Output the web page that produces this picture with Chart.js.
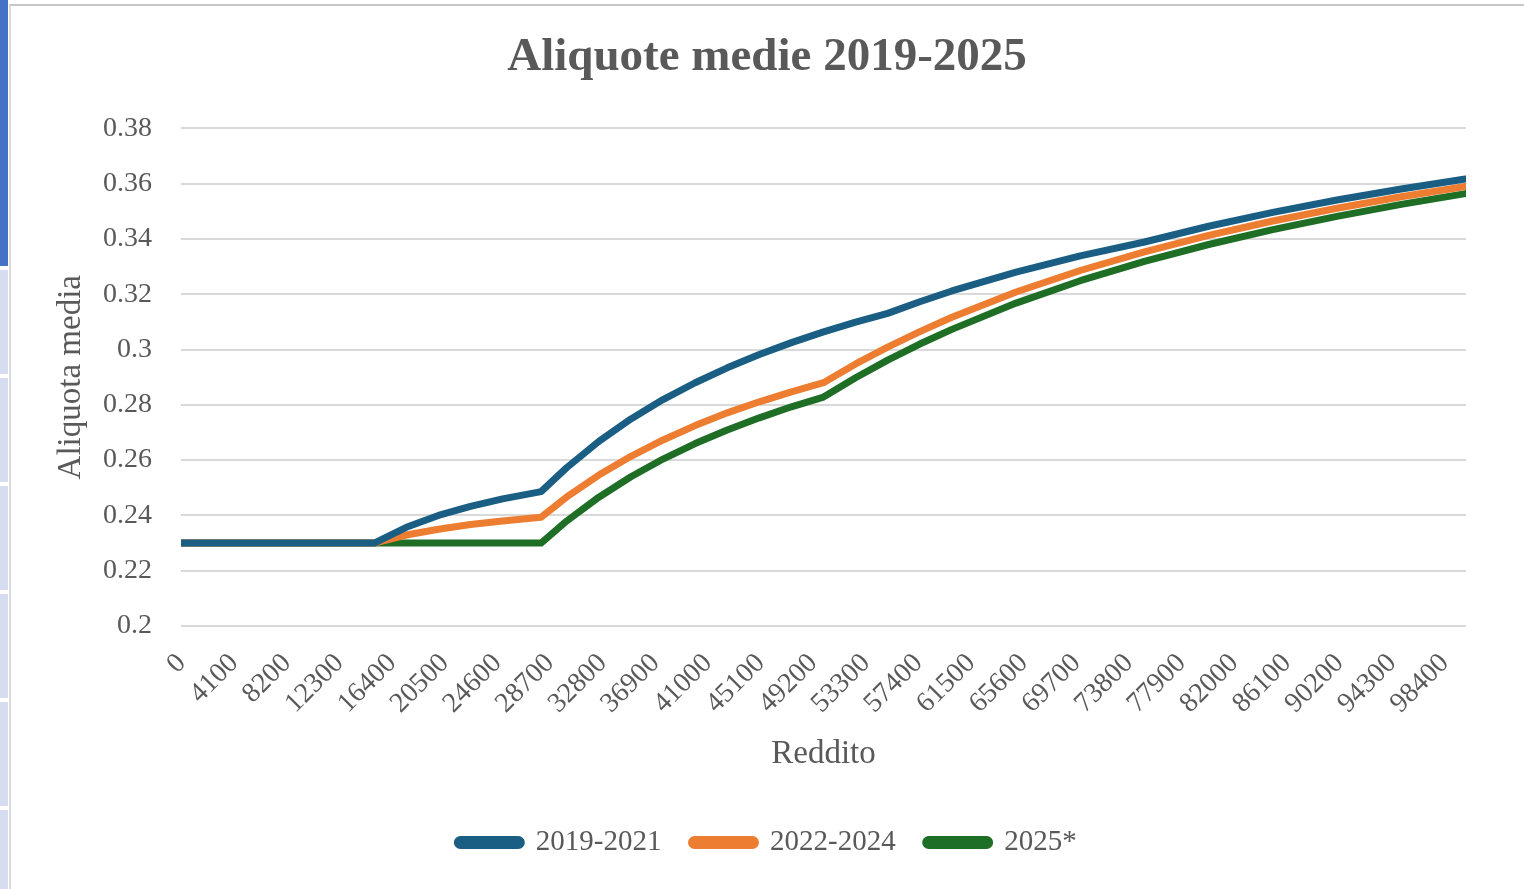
<!DOCTYPE html>
<html>
<head>
<meta charset="utf-8">
<script src="https://cdn.jsdelivr.net/npm/chart.js@4.4.1/dist/chart.umd.min.js"></script>
<style>
  body { margin: 0; background: #fff; width: 1524px; height: 889px; overflow: hidden; position: relative; }
  #strip { position: absolute; left: 0; top: 0; width: 8px; height: 266px; background: #4472c4; }
  #strip2 { position: absolute; left: 0; top: 270px; width: 8px; height: 619px;
    background: repeating-linear-gradient(#d6ddf0 0 104px, #fff 104px 108px); }
  #frame { position: absolute; left: 9px; top: 4px; width: 1515px; height: 885px;
    border-top: 2px solid #c8c8c8; border-left: 2px solid #dcdcdc; box-sizing: border-box; }
  #box { position: absolute; left: 10px; top: 6px; width: 1514px; height: 883px; }
</style>
</head>
<body>
<div id="strip"></div>
<div id="strip2"></div>
<div id="frame"></div>
<div id="box"><canvas id="myChart"></canvas></div>
<script>
const ctx = document.getElementById('myChart');

// reddito (x) e aliquote medie
const redditi = [0, 15000, 17500, 20000, 22500, 25000, 28000, 30000, 32500, 35000, 37500, 40000,
  42500, 45000, 47500, 50000, 52500, 55000, 57500, 60000, 65000, 70000, 75000, 80000,
  85000, 90000, 95000, 100000];
const aliq2019 = [0.23, 0.23, 0.2357, 0.24, 0.2433, 0.246, 0.2486, 0.2573, 0.2668, 0.2749, 0.2819, 0.288,
  0.2934, 0.2982, 0.3025, 0.3064, 0.3099, 0.3131, 0.3173, 0.3212, 0.328, 0.3339, 0.3389, 0.3446,
  0.3496, 0.3541, 0.3581, 0.3617];
const aliq2022 = [0.23, 0.23, 0.2329, 0.235, 0.2367, 0.238, 0.2393, 0.2467, 0.2546, 0.2614, 0.2673, 0.2725,
  0.2771, 0.2811, 0.2847, 0.288, 0.2948, 0.3009, 0.3065, 0.3117, 0.3208, 0.3286, 0.3353, 0.3413,
  0.3465, 0.3511, 0.3553, 0.359];
const aliq2025 = [0.23, 0.23, 0.23, 0.23, 0.23, 0.23, 0.23, 0.238, 0.2466, 0.254, 0.2604, 0.266,
  0.2709, 0.2753, 0.2793, 0.2828, 0.2898, 0.2962, 0.302, 0.3073, 0.3168, 0.3249, 0.3319, 0.338,
  0.3434, 0.3482, 0.3525, 0.3564];
const tickRedditi = [0, 4100, 8200, 12300, 16400, 20500, 24600, 28700, 32800, 36900, 41000, 45100,
  49200, 53300, 57400, 61500, 65600, 69700, 73800, 77900, 82000, 86100, 90200, 94300, 98400];

const grigio = '#595959';
const serif = '"Liberation Serif", "Times New Roman", serif';

const punti = (arr) => redditi.map((r, i) => ({x: r, y: arr[i]}));
const serie = (label, arr, color) => ({
    label: label,
    data: punti(arr),
    borderColor: color,
    backgroundColor: color,
    borderWidth: 7,
    borderCapStyle: 'round',
    borderJoinStyle: 'round',
    pointRadius: 0,
    fill: false,
    tension: 0
});

const data = {
    datasets: [
        serie('2019-2021', aliq2019, '#1b5e84'),
        serie('2022-2024', aliq2022, '#ed7d31'),
        serie('2025*', aliq2025, '#1e6e26')
    ]
};

const config = {
    type: 'line',
    data: data,
    options: {
        maintainAspectRatio: false,
        responsive: true,
        animation: false,
        layout: { padding: { left: 0, right: 0, top: 0, bottom: 22 } },
        scales: {
            x: {
                type: 'linear',
                min: -50,
                max: 100050,
                afterBuildTicks: (scale) => { scale.ticks = tickRedditi.map(v => ({value: v})) },
                afterFit: (scale) => { scale.height = 172 },
                grid: { display: false, drawTicks: false },
                border: { display: false },
                ticks: {
                    autoSkip: false,
                    minRotation: 45,
                    maxRotation: 45,
                    padding: 21,
                    color: grigio,
                    font: { family: serif, size: 28 },
                    callback: (v) => String(v)
                },
                title: {
                    display: true,
                    text: 'Reddito',
                    color: grigio,
                    font: { family: serif, size: 33 },
                    padding: { top: 0, bottom: 24 }
                }
            },
            y: {
                min: 0.2,
                max: 0.38,
                afterFit: (scale) => { scale.width = 171 },
                grid: { color: '#d9d9d9', lineWidth: 2, drawTicks: false },
                border: { display: false },
                ticks: {
                    stepSize: 0.02,
                    padding: 29,
                    color: grigio,
                    font: { family: serif, size: 28 },
                    callback: (v) => String(+v.toFixed(2))
                },
                title: {
                    display: true,
                    text: 'Aliquota media',
                    color: grigio,
                    font: { family: serif, size: 33 },
                    padding: { top: 42, bottom: 0 }
                }
            },
            destra: {
                position: 'right',
                display: true,
                afterFit: (scale) => { scale.width = 58 },
                grid: { display: false, drawTicks: false },
                border: { display: false },
                ticks: { display: false }
            }
        },
        plugins: {
            title: {
                display: true,
                text: 'Aliquote medie 2019-2025',
                color: grigio,
                font: { family: serif, size: 47, weight: 'bold' },
                padding: { top: 24, bottom: 42 }
            },
            legend: {
                position: 'bottom',
                labels: {
                    boxWidth: 64,
                    boxHeight: 6,
                    useBorderRadius: true,
                    borderRadius: 3,
                    padding: 30,
                    color: grigio,
                    font: { family: serif, size: 29 }
                }
            },
            tooltip: { enabled: false }
        }
    }
};
const chart = new Chart(ctx, config)
</script>
</body>
</html>
